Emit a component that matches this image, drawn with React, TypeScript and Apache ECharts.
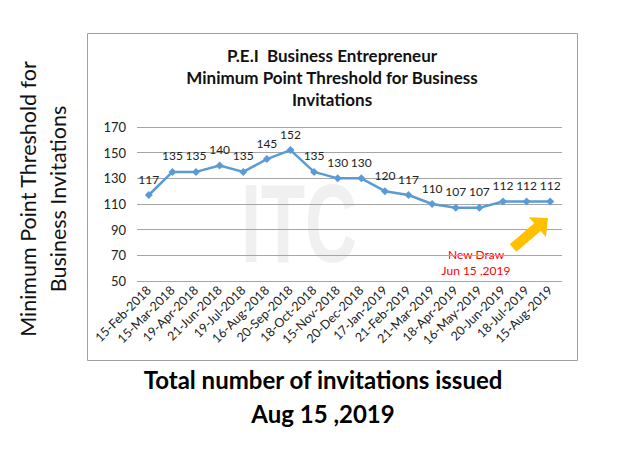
import React, { useEffect, useRef } from "react";
import * as echarts from "echarts";

const categories = [
  "15-Feb-2018", "15-Mar-2018", "19-Apr-2018", "21-Jun-2018", "19-Jul-2018",
  "16-Aug-2018", "20-Sep-2018", "18-Oct-2018", "15-Nov-2018", "20-Dec-2018",
  "17-Jan-2019", "21-Feb-2019", "21-Mar-2019", "18-Apr-2019", "16-May-2019",
  "20-Jun-2019", "18-Jul-2019", "15-Aug-2019",
];
const thresholds = [117, 135, 135, 140, 135, 145, 152, 135, 130, 130, 120, 117, 110, 107, 107, 112, 112, 112];
const yMin = 50;
const yMax = 170;
const yStep = 20;
const titleLines = ["P.E.I  Business Entrepreneur", "Minimum Point Threshold for Business", "Invitations"];
const yNameLines = ["Minimum Point Threshold for", "Business Invitations"];
const footerLines = ["Total number of invitations issued", "Aug 15 ,2019"];
const noteLines = ["New Draw", "Jun 15 ,2019"];

const FONT = "Lato, 'Open Sans', sans-serif";

export default function App() {
  const ref = useRef<HTMLDivElement>(null);
  useEffect(() => {
    document.body.style.margin = "0";
    if (!ref.current) return;
    const chart = echarts.init(ref.current, null, { renderer: "svg" });
    chart.setOption({
      animation: false,
      backgroundColor: "#ffffff",
      textStyle: { fontFamily: FONT },
      grid: { left: 137, right: 68, top: 127, bottom: 169 },
      xAxis: {
        type: "category",
        data: categories,
        boundaryGap: true,
        axisLine: { show: false },
        axisTick: { show: false },
        axisLabel: {
          rotate: 45,
          interval: 0,
          fontSize: 12.5,
          color: "#222",
          margin: 7,
          fontFamily: FONT,
        },
      },
      yAxis: {
        type: "value",
        min: yMin,
        max: yMax,
        interval: yStep,
        axisLine: { show: false },
        axisTick: { show: false },
        axisLabel: { fontSize: 13, color: "#222", margin: 11, fontFamily: FONT },
        splitLine: { lineStyle: { color: "#a6a6a6", width: 1 } },
      },
      series: [
        {
          type: "line",
          data: thresholds,
          symbol: "diamond",
          symbolSize: 8,
          lineStyle: { color: "#5b9bd5", width: 2.5 },
          itemStyle: { color: "#5b9bd5" },
          label: {
            show: true,
            position: "top",
            distance: 6,
            fontSize: 12,
            color: "#222",
            fontFamily: FONT,
          },
          z: 5,
        },
      ],
      graphic: [
        {
          type: "text",
          x: 241,
          y: 168,
          scaleX: 0.65,
          z: -10,
          style: {
            text: "ITC",
            fontSize: 111,
            fontWeight: "bold",
            fontFamily: "'Liberation Sans', Arial, sans-serif",
            fill: "#f0f0f0",
          },
        },
        {
          type: "rect",
          z: -20,
          shape: { x: 87.5, y: 33.5, width: 490, height: 327 },
          style: { fill: "none", stroke: "#a0a0a0", lineWidth: 1 },
        },
        ...titleLines.map((t, i) => ({
          type: "text",
          x: 332,
          y: 55 + i * 22,
          style: {
            text: t,
            fontSize: 17,
            fontWeight: "bold",
            fontFamily: FONT,
            fill: "#111",
            align: "center",
            verticalAlign: "middle",
          },
        })),
        ...yNameLines.map((t, i) => ({
          type: "text",
          x: 28 + i * 30,
          y: 199,
          rotation: Math.PI / 2,
          style: {
            text: t,
            fontSize: 21.5,
            fontFamily: FONT,
            fill: "#111",
            align: "center",
            verticalAlign: "middle",
          },
        })),
        ...footerLines.map((t, i) => ({
          type: "text",
          x: 323,
          y: 379 + i * 34,
          style: {
            text: t,
            fontSize: 24,
            fontWeight: "bold",
            fontFamily: FONT,
            fill: "#000",
            align: "center",
            verticalAlign: "middle",
          },
        })),
        ...noteLines.map((t, i) => ({
          type: "text",
          x: 476,
          y: 254 + i * 16,
          style: {
            text: t,
            fontSize: 12,
            fontFamily: FONT,
            fill: "#ff0000",
            align: "center",
            verticalAlign: "middle",
          },
        })),
        {
          type: "polygon",
          z: 10,
          shape: {
            points: [
              [516.3, 251.8],
              [540.7, 230.9],
              [545.9, 237],
              [548, 218],
              [528.9, 217.2],
              [534.2, 223.3],
              [509.8, 244.2],
            ],
          },
          style: { fill: "#ffc000", stroke: "none" },
        },
      ],
    });
    return () => chart.dispose();
  }, []);
  return <div ref={ref} style={{ width: 630, height: 450 }} />;
}
